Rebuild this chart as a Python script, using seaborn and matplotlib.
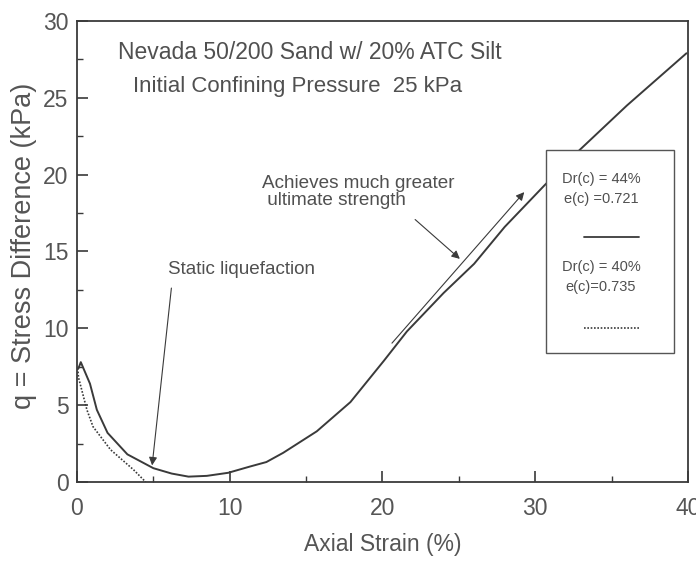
import numpy as np
import pandas as pd
import matplotlib
matplotlib.use("Agg")
import matplotlib.pyplot as plt
import seaborn as sns
from matplotlib.patches import Rectangle
from matplotlib.ticker import MultipleLocator

# Dr(c) = 44 %, e(c) = 0.721  (solid)
dense_strain = [0.1, 0.25, 0.85, 1.3, 2.0, 3.3, 5.0, 6.2, 7.3, 8.5, 9.9, 11.3, 12.4,
                13.5, 15.7, 17.9, 20.1, 21.6, 24.0, 26.0, 28.0, 30.6, 32.9, 36.0, 39.9]
dense_q = [7.4, 7.8, 6.4, 4.7, 3.2, 1.8, 0.9, 0.55, 0.35, 0.4, 0.6, 1.0, 1.3,
           1.9, 3.3, 5.2, 7.9, 9.8, 12.3, 14.2, 16.6, 19.3, 21.6, 24.5, 27.9]

# Dr(c) = 40 %, e(c) = 0.735  (dotted)
loose_strain = [0.05, 0.1, 0.65, 1.05, 2.2, 3.7, 4.5]
loose_q = [7.4, 6.8, 4.7, 3.6, 2.1, 0.8, 0.0]

title_lines = ["Nevada 50/200 Sand w/ 20% ATC Silt", "Initial Confining Pressure  25 kPa"]
legend_dense = "Dr(c) = 44%\ne(c) =0.721"
legend_loose = "Dr(c) = 40%\ne(c)=0.735"

sns.set_style("ticks")
plt.rcParams['font.family'] = ['Liberation Sans', 'DejaVu Sans']

ink = "#3a3a3a"
grey_txt = "#555555"
fig = plt.figure(figsize=(6.96, 5.61), dpi=100)
ax = fig.add_axes([0.1106, 0.1408, 0.8779, 0.8218])

dense = pd.DataFrame({"strain": dense_strain, "q": dense_q})
loose = pd.DataFrame({"strain": loose_strain, "q": loose_q})
sns.lineplot(data=dense, x="strain", y="q", sort=False, color=ink, lw=1.4, ax=ax)
sns.lineplot(data=loose, x="strain", y="q", sort=False, color=ink, lw=1.2,
             linestyle=(0, (1, 1)), ax=ax)

ax.set_xlim(0, 40)
ax.set_ylim(0, 30)
ax.xaxis.set_major_locator(MultipleLocator(10))
ax.xaxis.set_minor_locator(MultipleLocator(5))
ax.yaxis.set_major_locator(MultipleLocator(5))
ax.yaxis.set_minor_locator(MultipleLocator(2.5))
ax.tick_params(which="both", direction="in", colors=ink, labelcolor=grey_txt)
ax.tick_params(which="major", length=8, width=1.2, labelsize=16.5)
ax.tick_params(axis="x", which="major", pad=11)
ax.tick_params(axis="y", which="major", pad=6)
ax.tick_params(which="minor", length=4, width=1.0)
for s in ax.spines.values():
    s.set_color(ink)
    s.set_linewidth(1.3)

ax.set_xlabel("Axial Strain (%)", fontsize=16.5, color=grey_txt)
ax.set_ylabel("q = Stress Difference (kPa)", fontsize=19.5, color=grey_txt)
ax.xaxis.set_label_coords(0.5, -0.111)
ax.yaxis.set_label_coords(-0.0655, 0.512)

ax.text(2.7, 27.98, title_lines[0], ha="left", va="center", color="#505050", fontsize=16.5)
ax.text(3.7, 25.76, title_lines[1], ha="left", va="center", color="#505050", fontsize=16)

small = dict(color="#505050", fontsize=13.6)
ax.text(5.97, 13.8, "Static liquefaction", ha="left", va="center", **small)
ax.annotate("", xy=(4.9, 0.9), xytext=(6.2, 12.8),
            arrowprops=dict(arrowstyle="-|>", color=ink, lw=0.8, mutation_scale=12))

ax.text(12.13, 18.87, "Achieves much greater\n ultimate strength", ha="left", va="center",
        linespacing=1.05, **small)
ax.annotate("", xy=(25.2, 14.4), xytext=(22.0, 17.2),
            arrowprops=dict(arrowstyle="-|>", color=ink, lw=0.8, mutation_scale=12))
ax.annotate("", xy=(29.4, 19.0), xytext=(20.5, 8.9),
            arrowprops=dict(arrowstyle="-|>", color=ink, lw=0.8, mutation_scale=12))

# legend box drawn by hand (text above sample line)
ax.add_patch(Rectangle((30.7, 8.4), 8.4, 13.2, facecolor="white", edgecolor="#555555",
                       lw=1.0, zorder=5))
ax.text(34.3, 19.06, legend_dense, ha="center", va="center", fontsize=10.5,
        color="#505050", linespacing=1.5, zorder=6)
ax.plot([33.2, 36.8], [15.94, 15.94], color=ink, lw=1.3, zorder=6)
ax.text(34.3, 13.34, legend_loose, ha="center", va="center", fontsize=10.5,
        color="#505050", linespacing=1.5, zorder=6)
ax.plot([33.2, 36.8], [10.02, 10.02], color=ink, lw=1.2, linestyle=(0, (1, 1)), zorder=6)

fig.savefig("out.png", dpi=100)
